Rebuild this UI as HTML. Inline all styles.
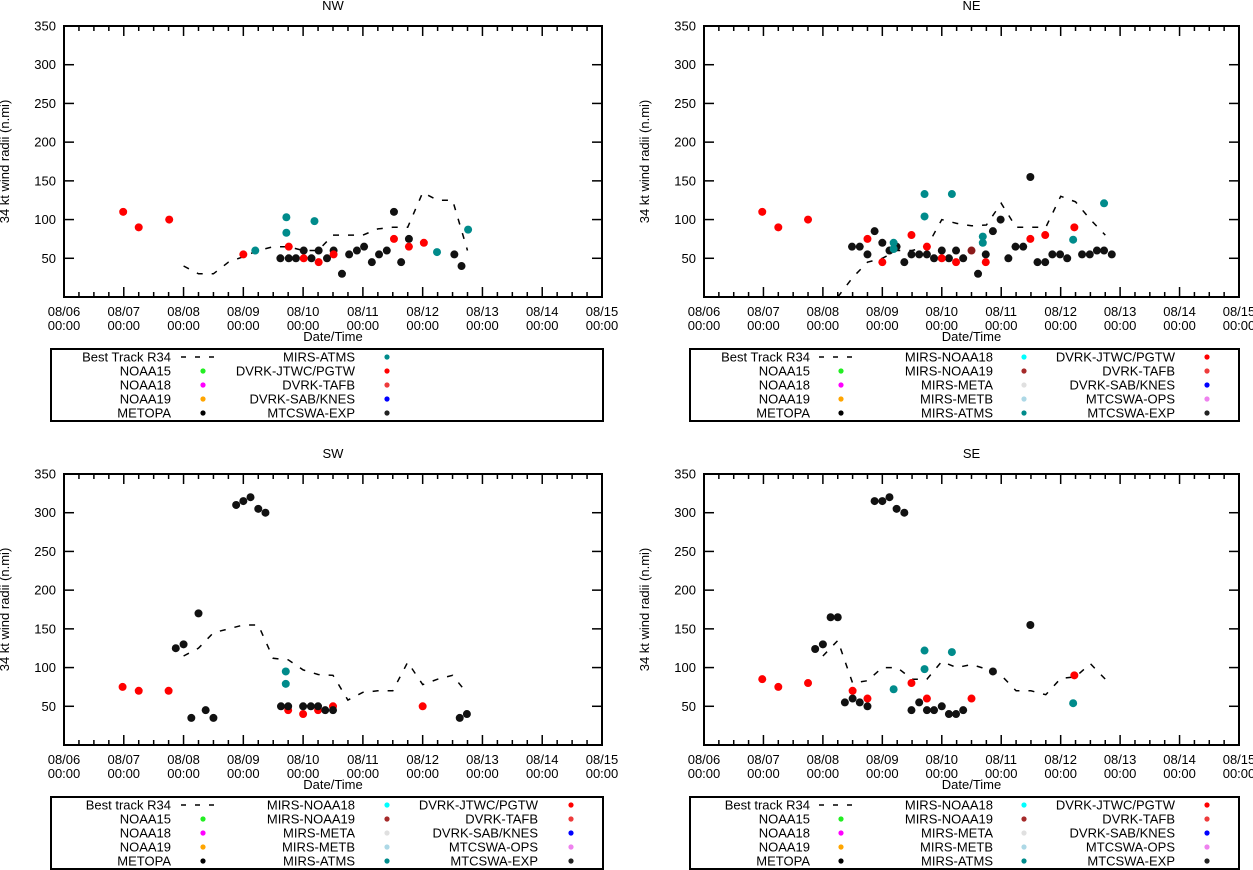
<!DOCTYPE html>
<html><head><meta charset="utf-8">
<style>
html,body{margin:0;padding:0;background:#fff;}
svg{display:block;font-family:"Liberation Sans",sans-serif;}
</style></head>
<body>
<svg id="chart" width="1253" height="870" viewBox="0 0 1253 870"></svg>
<script>
// ---- data (days since 08/06 00:00, radius n.mi) ----
const xTickLabels = ["08/06","08/07","08/08","08/09","08/10","08/11","08/12","08/13","08/14","08/15"];
const yTicks = [50,100,150,200,250,300,350];

const nwBestX = [2.0,2.25,2.5,2.75,3.0,3.25,3.5,3.75,4.0,4.25,4.5,4.75,5.0,5.25,5.5,5.75,6.0,6.25,6.5,6.75];
const nwBestY = [40,30,30,45,52,60,65,65,60,60,80,80,80,88,90,90,135,125,125,60];
const nwJtwcX = [0.99,1.25,1.76,3.0,3.76,4.01,4.26,4.51,5.52,5.77,6.02];
const nwJtwcY = [110,90,100,55,65,50,45,55,75,65,70];
const nwAtmsX = [3.2,3.72,3.72,4.19,6.24,6.76];
const nwAtmsY = [60,103,83,98,58,87];
const nwExpX = [3.62,3.76,3.88,4.01,4.14,4.26,4.4,4.51,4.65,4.77,4.9,5.02,5.15,5.27,5.4,5.52,5.64,5.77,6.53,6.65];
const nwExpY = [50,50,50,60,50,60,50,60,30,55,60,65,45,55,60,110,45,75,55,40];

const neBestX = [2.25,2.5,2.75,3.0,3.25,3.5,3.75,4.0,4.25,4.5,4.75,5.0,5.25,5.5,5.75,6.0,6.25,6.5,6.75];
const neBestY = [0,25,45,50,60,60,65,100,95,92,93,121,90,90,90,130,123,100,80];
const neJtwcX = [0.98,1.25,1.75,2.75,3.0,3.49,3.75,4.0,4.24,4.74,5.49,5.74,6.23];
const neJtwcY = [110,90,100,75,45,80,65,50,45,45,75,80,90];
const neAtmsX = [3.19,3.19,3.71,3.71,4.17,4.69,4.69,6.21,6.73];
const neAtmsY = [70,62,133,104,133,78,70,74,121];
const neExpX = [2.49,2.62,2.75,2.87,3.0,3.12,3.24,3.37,3.49,3.62,3.75,3.87,4.0,4.12,4.24,4.36,4.61,4.74,4.86,4.99,5.12,5.24,5.37,5.49,5.61,5.74,5.86,5.99,6.11,6.36,6.49,6.61,6.73,6.86];
const neExpY = [65,65,55,85,70,60,65,45,55,55,55,50,60,50,60,50,30,55,85,100,50,65,65,155,45,45,55,55,50,55,55,60,60,55];
const neN19X = [4.5];
const neN19Y = [60];

const swBestX = [2.0,2.25,2.5,2.75,3.0,3.25,3.5,3.75,4.0,4.25,4.5,4.75,5.0,5.25,5.5,5.75,6.0,6.25,6.5,6.75];
const swBestY = [115,125,145,150,155,155,112,110,97,91,90,58,68,70,70,107,78,85,90,66];
const swJtwcX = [0.98,1.25,1.75,3.75,4.0,4.25,4.5,6.0];
const swJtwcY = [75,70,70,45,40,45,50,50];
const swAtmsX = [3.71,3.71];
const swAtmsY = [95,79];
const swExpX = [1.87,2.0,2.13,2.25,2.37,2.5,2.88,3.0,3.12,3.25,3.37,3.63,3.75,4.0,4.13,4.25,4.37,4.5,6.62,6.74];
const swExpY = [125,130,35,170,45,35,310,315,320,305,300,50,50,50,50,50,45,45,35,40];

const seBestX = [2.0,2.25,2.5,2.75,3.0,3.25,3.5,3.75,4.0,4.25,4.5,4.75,5.0,5.25,5.5,5.75,6.0,6.25,6.5,6.75];
const seBestY = [115,135,80,83,100,100,85,85,108,100,104,98,90,70,70,65,86,88,105,85];
const seJtwcX = [0.98,1.25,1.75,2.5,2.75,3.49,3.75,4.5,6.23];
const seJtwcY = [85,75,80,70,60,80,60,60,90];
const seAtmsX = [3.19,3.71,3.71,4.17,6.21];
const seAtmsY = [72,122,98,120,54];
const seExpX = [1.87,2.0,2.13,2.25,2.37,2.5,2.62,2.75,2.87,3.0,3.12,3.24,3.37,3.49,3.62,3.75,3.87,4.0,4.12,4.24,4.36,4.86,5.49];
const seExpY = [124,130,165,165,55,60,55,50,315,315,320,305,300,45,55,45,45,50,40,40,45,95,155];

const legend2 = [["Best Track R34",null],["NOAA15","#22ee22"],["NOAA18","#ff00ff"],["NOAA19","#ffa500"],["METOPA","#000"],
  ["MIRS-ATMS","#008b8b"],["DVRK-JTWC/PGTW","#ff0000"],["DVRK-TAFB","#ee3b3b"],["DVRK-SAB/KNES","#0000ff"],["MTCSWA-EXP","#222"]];
const legend3 = [[null,null],["NOAA15","#22ee22"],["NOAA18","#ff00ff"],["NOAA19","#ffa500"],["METOPA","#000"],
  ["MIRS-NOAA18","#00ffff"],["MIRS-NOAA19","#a52a2a"],["MIRS-META","#e0e0e0"],["MIRS-METB","#add8e6"],["MIRS-ATMS","#008b8b"],
  ["DVRK-JTWC/PGTW","#ff0000"],["DVRK-TAFB","#ee3b3b"],["DVRK-SAB/KNES","#0000ff"],["MTCSWA-OPS","#ee82ee"],["MTCSWA-EXP","#222"]];

const NS="http://www.w3.org/2000/svg";
const svg=document.getElementById('chart');
function mk(tag,attrs,parent){const e=document.createElementNS(NS,tag);for(const k in attrs)e.setAttribute(k,attrs[k]);(parent||svg).appendChild(e);return e;}

function panel(cfg){
  const g=mk('g',{});
  
  
  const L=cfg.left,R=cfg.right,T=cfg.top,B=cfg.bottom;
  const xs=d=>L+(R-L)*d/9;
  const ys=v=>B-(B-T)*v/350;
  const t=mk('text',{x:(L+R)/2,y:T-16,'font-size':13,'text-anchor':'middle'},g);t.textContent=cfg.title;
  
  
  for(let i=0;i<=36;i++){
    const x=xs(i/4),len=(i%4===0)?10:5;
    mk('line',{x1:x,y1:B,x2:x,y2:B-len,stroke:'#000','stroke-width':1.5},g);
    mk('line',{x1:x,y1:T,x2:x,y2:T+len,stroke:'#000','stroke-width':1.5},g);
  }
  xTickLabels.forEach((lb,i)=>{
    const tx=mk('text',{x:xs(i),y:B+19,'font-size':13,'text-anchor':'middle'},g);tx.textContent=lb;
    
    
    const t2=mk('text',{x:xs(i),y:B+33,'font-size':13,'text-anchor':'middle'},g);t2.textContent="00:00";
  });
  yTicks.forEach(v=>{
    const y=ys(v);
    mk('line',{x1:L,y1:y,x2:L+10,y2:y,stroke:'#000','stroke-width':1.5},g);
    mk('line',{x1:R,y1:y,x2:R-10,y2:y,stroke:'#000','stroke-width':1.5},g);
    const ty=mk('text',{x:L-8,y:y+4.5,'font-size':13,'text-anchor':'end'},g);ty.textContent=v;
    
    
  });
  const xt=mk('text',{x:(L+R)/2,y:B+44,'font-size':13,'text-anchor':'middle'},g);xt.textContent="Date/Time";
  
  
  const yc=(T+B)/2;
  const yx=L-55;
  const yt=mk('text',{x:yx,y:yc,'font-size':13,'text-anchor':'middle',transform:`rotate(-90 ${yx} ${yc})`},g);yt.textContent="34 kt wind radii (n.mi)";
  
  
  const cp=mk('clipPath',{id:'cp'+cfg.key},g);mk('rect',{x:L,y:T,width:R-L,height:B-T},cp);
  const pts=cfg.bestX.map((d,i)=>xs(d).toFixed(1)+','+ys(cfg.bestY[i]).toFixed(1)).join(' ');
  const pl=mk('polyline',{points:pts,fill:'none',stroke:'#000','stroke-width':1.5,'stroke-dasharray':'6,9','clip-path':`url(#cp${cfg.key})`},g);
  
  
  cfg.series.forEach(s=>{
    s.x.forEach((d,i)=>{
      const c=mk('circle',{cx:xs(d),cy:ys(s.y[i]),r:4,fill:s.color},g);
      
      
    });
  });
  mk('rect',{x:L,y:T,width:R-L,height:B-T,fill:'none',stroke:'#000','stroke-width':2},g);
  const lg=mk('g',{},g);
  
  
  mk('rect',{x:cfg.lgx,y:cfg.lgy,width:cfg.lgw,height:72,fill:'none',stroke:'#000','stroke-width':2},lg);
  const items=cfg.items, cols=cfg.cols;
  items.forEach((it,idx)=>{
    if(!it[0]) return;
    const col=Math.floor(idx/5),row=idx%5;
    const lx=cols[col][0], mx=cols[col][1], y=cfg.lgy+8+row*14;
    const tt=mk('text',{x:lx,y:y+4.5,'font-size':13,'text-anchor':'end'},lg);tt.textContent=it[0];
    
    
    if(it[1]) mk('circle',{cx:mx,cy:y,r:2.6,fill:it[1]},lg);
    else mk('line',{x1:mx-22,y1:y,x2:mx+16,y2:y,stroke:'#000','stroke-width':1.5,'stroke-dasharray':'5,9'},lg);
  });
}
function items3(best){const a=legend3.slice();a[0]=[best,null];return a;}
const colsL=[[171,203],[355,387],[538,571]];
const colsR=[[810,841],[993,1024],[1175,1207]];
panel({key:'nw',title:'NW',left:64,right:602,top:26,bottom:297,bestX:nwBestX,bestY:nwBestY,
  series:[{name:'mtcswa-exp',x:nwExpX,y:nwExpY,color:'#111'},{name:'dvrk-jtwc',x:nwJtwcX,y:nwJtwcY,color:'#ff0000'},{name:'mirs-atms',x:nwAtmsX,y:nwAtmsY,color:'#008b8b'}],
  lgx:51,lgy:349,lgw:552,items:legend2,cols:colsL});
panel({key:'ne',title:'NE',left:704,right:1239,top:26,bottom:297,bestX:neBestX,bestY:neBestY,
  series:[{name:'mtcswa-exp',x:neExpX,y:neExpY,color:'#111'},{name:'mirs-noaa19',x:neN19X,y:neN19Y,color:'#8b1a1a'},{name:'dvrk-jtwc',x:neJtwcX,y:neJtwcY,color:'#ff0000'},{name:'mirs-atms',x:neAtmsX,y:neAtmsY,color:'#008b8b'}],
  lgx:690,lgy:349,lgw:549,items:items3('Best Track R34'),cols:colsR});
panel({key:'sw',title:'SW',left:64,right:602,top:474,bottom:745,bestX:swBestX,bestY:swBestY,
  series:[{name:'dvrk-jtwc',x:swJtwcX,y:swJtwcY,color:'#ff0000'},{name:'mtcswa-exp',x:swExpX,y:swExpY,color:'#111'},{name:'mirs-atms',x:swAtmsX,y:swAtmsY,color:'#008b8b'}],
  lgx:51,lgy:797,lgw:552,items:items3('Best track R34'),cols:colsL});
panel({key:'se',title:'SE',left:704,right:1239,top:474,bottom:745,bestX:seBestX,bestY:seBestY,
  series:[{name:'mtcswa-exp',x:seExpX,y:seExpY,color:'#111'},{name:'dvrk-jtwc',x:seJtwcX,y:seJtwcY,color:'#ff0000'},{name:'mirs-atms',x:seAtmsX,y:seAtmsY,color:'#008b8b'}],
  lgx:690,lgy:797,lgw:549,items:items3('Best track R34'),cols:colsR});
</script>
</body></html>
